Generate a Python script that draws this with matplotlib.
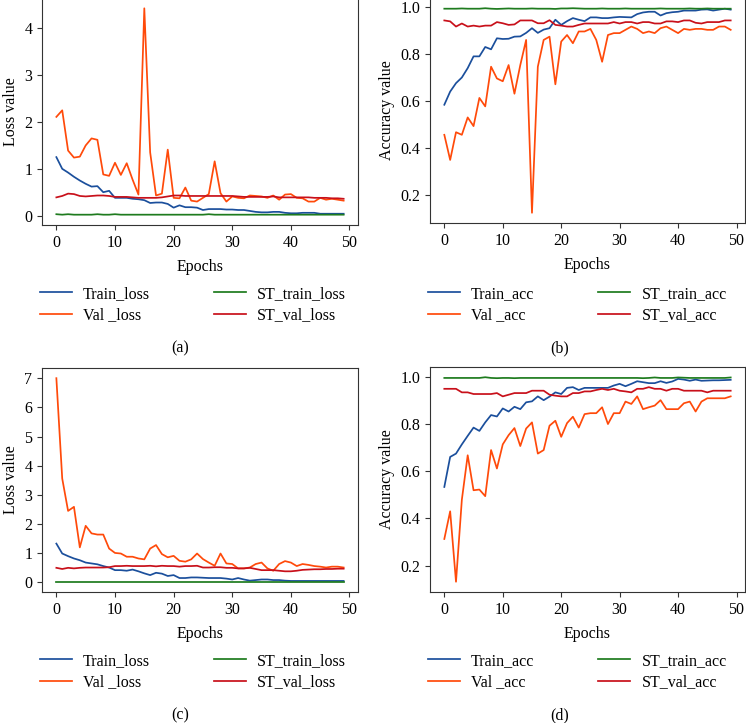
import matplotlib
matplotlib.use("Agg")
import matplotlib.pyplot as plt
import numpy as np

plt.rcParams['font.family'] = ['Liberation Serif', 'DejaVu Serif']

epochs = np.arange(50)

# (a) loss
a_train_loss = [1.25, 1.0, 0.92, 0.83, 0.75, 0.68, 0.62, 0.63, 0.5, 0.53,
                0.38, 0.38, 0.38, 0.36, 0.35, 0.33, 0.27, 0.28, 0.28, 0.25,
                0.17, 0.22, 0.18, 0.18, 0.17, 0.12, 0.14, 0.14, 0.14, 0.13,
                0.13, 0.12, 0.12, 0.10, 0.08, 0.07, 0.07, 0.08, 0.08, 0.06,
                0.05, 0.05, 0.06, 0.06, 0.06, 0.04, 0.04, 0.04, 0.04, 0.04]
a_val_loss = [2.11, 2.25, 1.39, 1.24, 1.26, 1.5, 1.65, 1.62, 0.88, 0.85,
              1.13, 0.87, 1.12, 0.77, 0.45, 4.43, 1.35, 0.43, 0.47, 1.41,
              0.38, 0.37, 0.6, 0.32, 0.3, 0.38, 0.46, 1.16, 0.48, 0.3,
              0.41, 0.38, 0.37, 0.43, 0.42, 0.41, 0.38, 0.43, 0.34, 0.45,
              0.46, 0.38, 0.37, 0.3, 0.3, 0.38, 0.34, 0.36, 0.34, 0.32]
a_st_train_loss = [0.03, 0.02, 0.03, 0.02, 0.02, 0.02, 0.02, 0.03, 0.02, 0.02,
                   0.03, 0.02, 0.02, 0.02, 0.02, 0.02, 0.02, 0.02, 0.02, 0.02,
                   0.02, 0.02, 0.02, 0.02, 0.02, 0.02, 0.03, 0.02, 0.02, 0.02,
                   0.02, 0.02, 0.02, 0.02, 0.02, 0.02, 0.02, 0.02, 0.02, 0.02,
                   0.02, 0.02, 0.02, 0.02, 0.02, 0.02, 0.02, 0.02, 0.02, 0.02]
a_st_val_loss = [0.39, 0.42, 0.47, 0.46, 0.42, 0.41, 0.42, 0.43, 0.43, 0.42,
                 0.40, 0.40, 0.40, 0.39, 0.38, 0.38, 0.38, 0.38, 0.39, 0.41,
                 0.43, 0.43, 0.42, 0.42, 0.42, 0.42, 0.42, 0.42, 0.42, 0.42,
                 0.42, 0.41, 0.40, 0.40, 0.40, 0.40, 0.40, 0.41, 0.39, 0.39,
                 0.39, 0.39, 0.39, 0.39, 0.38, 0.38, 0.38, 0.37, 0.37, 0.36]

# (b) accuracy
b_train_acc = [0.584, 0.64, 0.676, 0.70, 0.74, 0.79, 0.79, 0.83, 0.82, 0.867,
               0.864, 0.865, 0.874, 0.875, 0.89, 0.91, 0.89, 0.904, 0.91, 0.946,
               0.924, 0.94, 0.953, 0.946, 0.94, 0.956, 0.956, 0.953, 0.953, 0.956,
               0.958, 0.957, 0.956, 0.97, 0.977, 0.98, 0.98, 0.964, 0.974, 0.978,
               0.98, 0.985, 0.985, 0.985, 0.989, 0.99, 0.985, 0.989, 0.993, 0.989]
b_val_acc = [0.456, 0.349, 0.467, 0.456, 0.53, 0.493, 0.613, 0.577, 0.746, 0.696,
             0.684, 0.753, 0.631, 0.753, 0.86, 0.124, 0.746, 0.86, 0.874, 0.671,
             0.853, 0.881, 0.846, 0.896, 0.896, 0.907, 0.86, 0.767, 0.881, 0.889,
             0.889, 0.903, 0.917, 0.907, 0.889, 0.896, 0.889, 0.91, 0.917, 0.903,
             0.889, 0.907, 0.903, 0.907, 0.907, 0.903, 0.903, 0.917, 0.917, 0.903]
b_st_train_acc = [0.993, 0.993, 0.993, 0.994, 0.993, 0.993, 0.993, 0.995, 0.993, 0.992,
                  0.993, 0.994, 0.993, 0.993, 0.993, 0.994, 0.993, 0.993, 0.993, 0.992,
                  0.994, 0.994, 0.995, 0.994, 0.993, 0.993, 0.993, 0.994, 0.993, 0.993,
                  0.993, 0.994, 0.993, 0.993, 0.993, 0.993, 0.993, 0.994, 0.993, 0.993,
                  0.993, 0.993, 0.994, 0.993, 0.993, 0.994, 0.993, 0.993, 0.993, 0.993]
b_st_val_acc = [0.943, 0.939, 0.917, 0.93, 0.917, 0.921, 0.917, 0.921, 0.921, 0.936,
                0.931, 0.924, 0.926, 0.943, 0.943, 0.943, 0.931, 0.931, 0.944, 0.924,
                0.921, 0.917, 0.917, 0.924, 0.93, 0.93, 0.93, 0.93, 0.93, 0.936,
                0.93, 0.936, 0.936, 0.93, 0.936, 0.936, 0.93, 0.93, 0.939, 0.939,
                0.936, 0.943, 0.943, 0.933, 0.93, 0.936, 0.936, 0.936, 0.943, 0.943]

# (c) loss
c_train_loss = [1.33, 0.99, 0.9, 0.82, 0.76, 0.68, 0.65, 0.62, 0.56, 0.51,
                0.42, 0.42, 0.4, 0.44, 0.38, 0.31, 0.25, 0.33, 0.3, 0.22,
                0.25, 0.15, 0.15, 0.17, 0.17, 0.16, 0.15, 0.15, 0.15, 0.13,
                0.1, 0.15, 0.1, 0.06, 0.08, 0.1, 0.1, 0.08, 0.08, 0.06,
                0.05, 0.05, 0.05, 0.05, 0.05, 0.05, 0.05, 0.05, 0.05, 0.05]
c_val_loss = [7.0, 3.56, 2.45, 2.59, 1.2, 1.94, 1.68, 1.64, 1.64, 1.16,
              1.01, 0.99, 0.88, 0.88, 0.82, 0.79, 1.16, 1.28, 0.97, 0.86,
              0.91, 0.74, 0.71, 0.79, 0.99, 0.8, 0.68, 0.57, 0.99, 0.65,
              0.63, 0.48, 0.48, 0.51, 0.63, 0.68, 0.48, 0.40, 0.63, 0.73,
              0.68, 0.56, 0.63, 0.6, 0.56, 0.54, 0.51, 0.54, 0.54, 0.51]
c_st_train_loss = [0.02, 0.02, 0.02, 0.02, 0.02, 0.02, 0.02, 0.02, 0.02, 0.02,
                   0.02, 0.02, 0.02, 0.02, 0.02, 0.02, 0.02, 0.02, 0.02, 0.02,
                   0.02, 0.02, 0.02, 0.02, 0.02, 0.02, 0.02, 0.02, 0.02, 0.02,
                   0.02, 0.02, 0.02, 0.02, 0.02, 0.02, 0.02, 0.02, 0.02, 0.02,
                   0.02, 0.02, 0.02, 0.02, 0.02, 0.02, 0.02, 0.02, 0.02, 0.02]
c_st_val_loss = [0.5, 0.46, 0.5, 0.48, 0.5, 0.51, 0.51, 0.51, 0.51, 0.52,
                 0.56, 0.56, 0.57, 0.56, 0.56, 0.56, 0.57, 0.55, 0.57, 0.56,
                 0.56, 0.54, 0.56, 0.56, 0.57, 0.51, 0.51, 0.52, 0.52, 0.5,
                 0.5, 0.48, 0.48, 0.5, 0.46, 0.42, 0.42, 0.42, 0.4, 0.38,
                 0.38, 0.4, 0.43, 0.44, 0.45, 0.45, 0.46, 0.46, 0.47, 0.47]

# (d) accuracy
d_train_acc = [0.533, 0.66, 0.674, 0.713, 0.749, 0.784, 0.77, 0.806, 0.837, 0.831,
               0.865, 0.852, 0.872, 0.862, 0.891, 0.895, 0.916, 0.9, 0.915, 0.933,
               0.926, 0.952, 0.955, 0.943, 0.952, 0.952, 0.952, 0.952, 0.952, 0.962,
               0.969, 0.959, 0.969, 0.98, 0.976, 0.972, 0.972, 0.98, 0.973, 0.979,
               0.99, 0.987, 0.982, 0.987, 0.982, 0.983, 0.984, 0.984, 0.985, 0.986]
d_val_acc = [0.313, 0.43, 0.132, 0.479, 0.667, 0.519, 0.522, 0.494, 0.689, 0.611,
             0.713, 0.752, 0.782, 0.706, 0.78, 0.806, 0.674, 0.689, 0.792, 0.813,
             0.745, 0.803, 0.83, 0.784, 0.841, 0.845, 0.845, 0.87, 0.799, 0.845,
             0.845, 0.894, 0.884, 0.916, 0.862, 0.87, 0.877, 0.9, 0.862, 0.862,
             0.862, 0.887, 0.894, 0.852, 0.894, 0.908, 0.908, 0.908, 0.908, 0.916]
d_st_train_acc = [0.994, 0.994, 0.994, 0.994, 0.994, 0.994, 0.994, 0.997, 0.994, 0.993,
                  0.994, 0.994, 0.993, 0.994, 0.994, 0.994, 0.994, 0.994, 0.994, 0.994,
                  0.994, 0.994, 0.994, 0.994, 0.994, 0.994, 0.994, 0.994, 0.994, 0.994,
                  0.994, 0.994, 0.994, 0.994, 0.993, 0.994, 0.996, 0.994, 0.994, 0.994,
                  0.996, 0.995, 0.994, 0.994, 0.994, 0.994, 0.994, 0.994, 0.994, 0.996]
d_st_val_acc = [0.948, 0.948, 0.948, 0.933, 0.933, 0.926, 0.926, 0.926, 0.926, 0.93,
                0.916, 0.923, 0.93, 0.93, 0.93, 0.94, 0.94, 0.94, 0.923, 0.919,
                0.916, 0.916, 0.93, 0.93, 0.937, 0.937, 0.943, 0.948, 0.943, 0.948,
                0.94, 0.937, 0.933, 0.948, 0.948, 0.955, 0.948, 0.948, 0.94, 0.948,
                0.948, 0.94, 0.94, 0.94, 0.94, 0.933, 0.94, 0.94, 0.94, 0.94]

BLUE = "#1b4f9c"
ORANGE = "#ff4a0a"
GREEN = "#1e7b1e"
RED = "#c8101a"

W, H = 746, 723
fig = plt.figure(figsize=(W / 100, H / 100), dpi=100)


def px_axes(left, top, right, bottom):
    return fig.add_axes([left / W, 1 - bottom / H, (right - left) / W, (bottom - top) / H])


panels = [
    (px_axes(42, -2, 358, 225), [a_train_loss, a_val_loss, a_st_train_loss, a_st_val_loss],
     ["Train_loss", "Val _loss", "ST_train_loss", "ST_val_loss"], "Loss value", "(a)",
     [0, 1, 2, 3, 4], 40, 225),
    (px_axes(430, -2, 745, 223), [b_train_acc, b_val_acc, b_st_train_acc, b_st_val_acc],
     ["Train_acc", "Val _acc", "ST_train_acc", "ST_val_acc"], "Accuracy value", "(b)",
     [0.2, 0.4, 0.6, 0.8, 1.0], 428, 225),
    (px_axes(42, 368, 358, 592), [c_train_loss, c_val_loss, c_st_train_loss, c_st_val_loss],
     ["Train_loss", "Val _loss", "ST_train_loss", "ST_val_loss"], "Loss value", "(c)",
     [0, 1, 2, 3, 4, 5, 6, 7], 40, 592),
    (px_axes(430, 367, 745, 592), [d_train_acc, d_val_acc, d_st_train_acc, d_st_val_acc],
     ["Train_acc", "Val _acc", "ST_train_acc", "ST_val_acc"], "Accuracy value", "(d)",
     [0.2, 0.4, 0.6, 0.8, 1.0], 428, 592),
]

colors = [BLUE, ORANGE, GREEN, RED]

for ax, series, labels, ylabel, caption, yticks, leg_x, ax_bottom in panels:
    handles = []
    for vals, lab, col in zip(series, labels, colors):
        h, = ax.plot(epochs, vals, color=col, linewidth=1.25, label=lab)
        handles.append(h)
    ax.set_xticks([0, 10, 20, 30, 40, 50])
    ax.set_yticks(yticks)
    if ylabel.startswith("Accuracy"):
        ax.set_yticklabels([f"{t:.1f}" for t in yticks])
    ax.tick_params(labelsize=11.5, length=3.5, width=0.8, color="#333333")
    ax.set_xlabel("Epochs", fontsize=11.5, labelpad=6)
    ax.set_ylabel(ylabel, fontsize=11.5, labelpad=4)
    for sp in ax.spines.values():
        sp.set_color("#333333")
        sp.set_linewidth(0.8)
    fig.legend(handles=handles, ncol=2, loc="upper left",
               bbox_to_anchor=(leg_x / W, 1 - (ax_bottom + 61) / H),
               frameon=False, fontsize=11.5, handlelength=2.0, handletextpad=0.7,
               columnspacing=4.0, labelspacing=0.35, borderpad=0, borderaxespad=0)
    cx = 180 if caption in ("(a)", "(c)") else 560
    fig.text(cx / W, 1 - (ax_bottom + 123) / H, caption, ha="center", va="center", fontsize=11.5)

fig.savefig("out.png", dpi=100)
